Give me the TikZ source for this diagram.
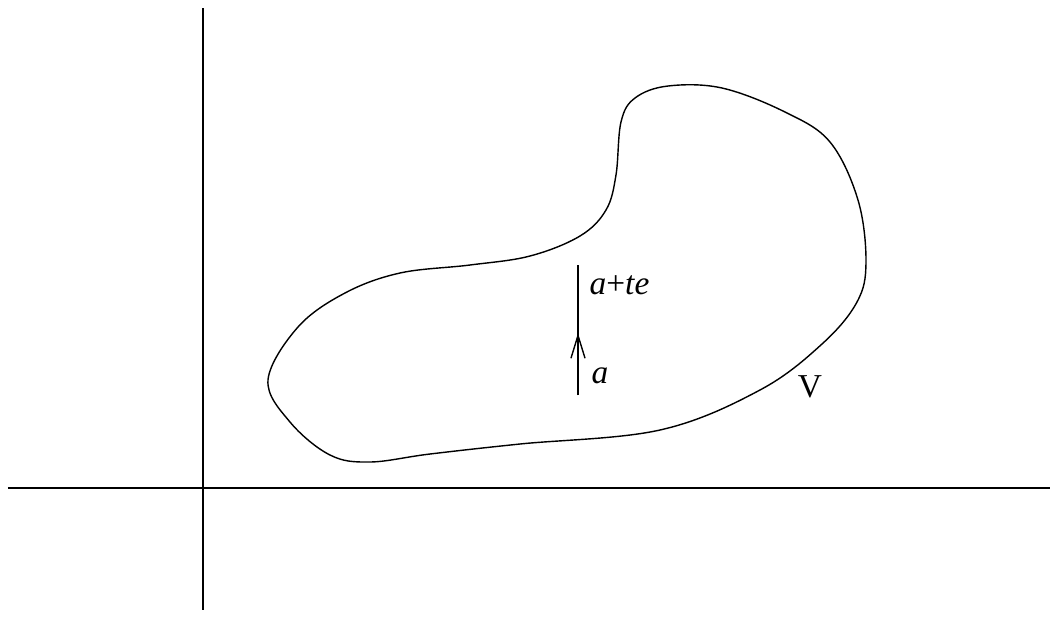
\documentclass[tikz,border=0pt]{standalone}
\usepackage{fontspec}
\setmainfont{Liberation Serif}
\usetikzlibrary{arrows.meta}
\begin{document}
\begin{tikzpicture}[x=0.01cm,y=-0.01cm,
    lbl/.style={font=\fontsize{9.5}{11}\selectfont, inner sep=0pt}]
    \useasboundingbox (0,0) rectangle (1050,641);
    % axes
    \draw (8,488) -- (1050,488);
    \draw (203,8) -- (203,610);
    % the region V
    \draw plot[smooth cycle, tension=0.6] coordinates {
      (268,380) (298,327) (345,293) (400,273) (470,265) (530,256)
      (580,236) (606,210) (616,175) (621,122) (635,98) (668,86)
      (722,88) (785,112) (830,142) (858,200) (866,262) (857,302)
      (822,344) (760,390) (660,430) (520,444) (430,454) (370,462)
      (330,455) (290,422)};
    % segment from a to a+te
    \coordinate (a) at (578,395);
    \coordinate (mid) at (578,333);
    \coordinate (ate) at (578,265);
    \draw (a) -- (ate);
    \draw[-{Straight Barb[length=6.5pt,width=4pt]}] (a) -- (mid);
    \node[lbl, anchor=west] (la) at (591,376) {\textit{a}};
    \node[lbl, anchor=west] (late) at (589,285) {\textit{a}+\textit{te}};
    \node[lbl] (lV) at (810,387) {V};
  \end{tikzpicture}
\end{document}
